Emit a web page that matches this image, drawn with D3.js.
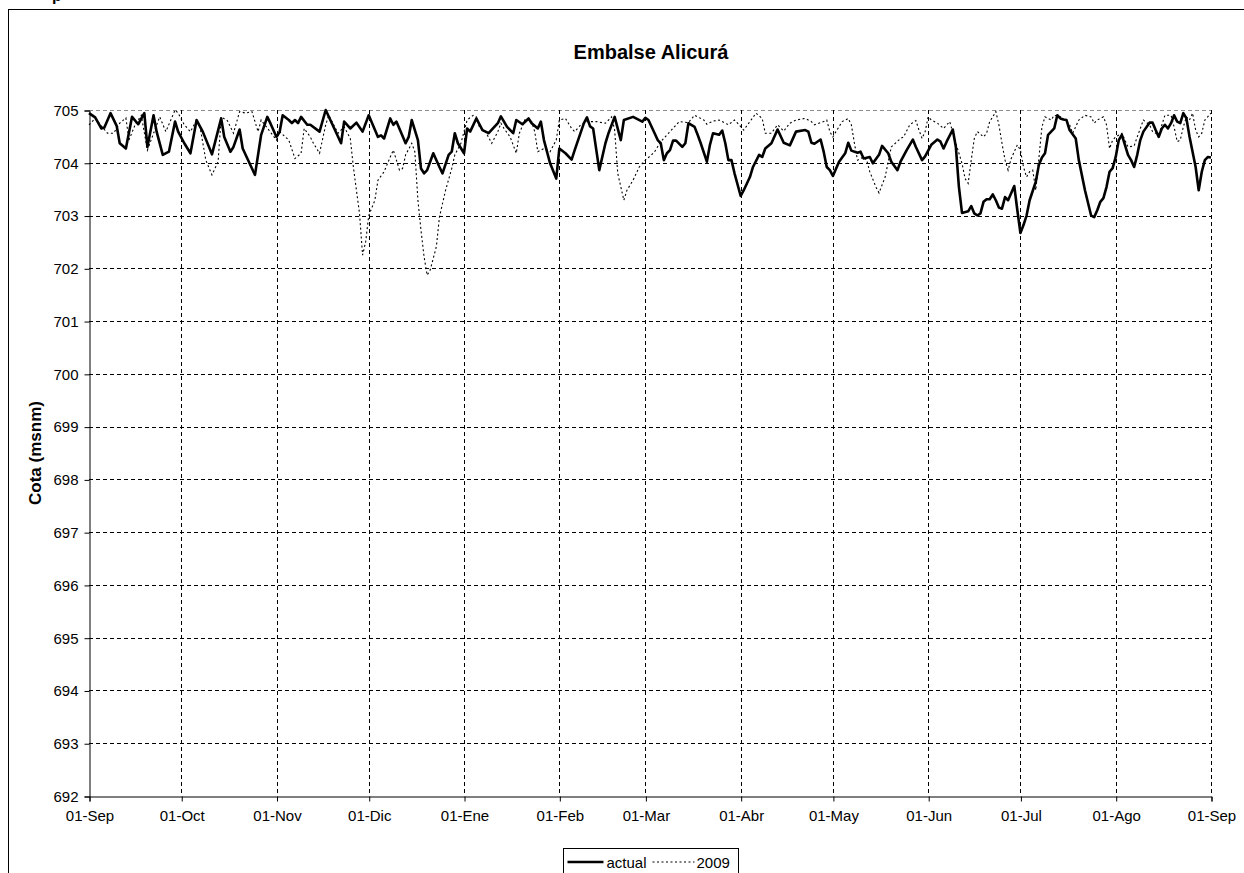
<!DOCTYPE html>
<html>
<head>
<meta charset="utf-8">
<script src="https://cdn.jsdelivr.net/npm/d3@7"></script>
<style>
  html, body { margin: 0; padding: 0; background: #fff; }
  svg { display: block; font-family: "Liberation Sans", Arial, sans-serif; }
</style>
</head>
<body>
<svg id="chart" width="1244" height="873"></svg>
<script>
// Cota diaria del embalse (msnm); días contados desde el 01-Sep
const diasActual = [0,2,4,5,7,9,10,12,14,16,18,19,21,22,24,26,28,29,31,33,35,37,40,43,44,46,47,49,50,52,54,56,58,59,61,62,63,65,66,67,68,69,71,72,75,77,79,82,83,85,87,89,91,94,95,96,98,99,100,103,104,105,107,108,109,110,112,114,115,117,118,119,120,122,123,124,126,128,130,133,134,136,138,139,141,143,144,146,147,148,150,152,153,155,157,158,161,162,163,164,166,168,169,171,173,174,177,180,181,182,184,185,186,187,188,189,190,191,193,194,195,197,198,199,201,202,203,205,206,207,208,209,210,212,213,215,216,218,219,220,222,224,226,228,230,233,234,235,236,238,239,240,241,242,244,246,247,248,250,251,252,254,255,257,258,260,261,263,264,266,268,269,271,272,274,276,277,278,279,281,282,283,284,286,287,288,289,290,291,292,293,294,295,296,297,298,299,301,302,303,304,305,306,308,309,310,311,312,314,315,316,317,318,319,321,322,324,326,327,328,329,330,331,332,333,334,335,336,337,338,339,340,341,342,343,345,346,347,348,349,350,351,352,353,354,355,356,357,358,360,361,362,363,364,365];
const cotaActual = [704.94,704.86,704.65,704.67,704.94,704.70,704.37,704.27,704.87,704.73,704.94,704.30,704.90,704.59,704.15,704.21,704.78,704.59,704.37,704.18,704.81,704.59,704.16,704.84,704.49,704.21,704.30,704.63,704.27,704.02,703.77,704.53,704.87,704.75,704.49,704.58,704.90,704.81,704.75,704.81,704.75,704.87,704.72,704.72,704.59,705.00,704.75,704.37,704.78,704.65,704.76,704.59,704.90,704.49,704.52,704.46,704.84,704.72,704.78,704.37,704.49,704.81,704.43,703.89,703.80,703.86,704.18,703.92,703.80,704.15,704.21,704.56,704.37,704.18,704.65,704.59,704.84,704.62,704.56,704.75,704.88,704.68,704.56,704.81,704.73,704.84,704.75,704.65,704.78,704.43,703.99,703.70,704.27,704.18,704.06,704.24,704.75,704.86,704.69,704.65,703.86,704.37,704.56,704.87,704.43,704.81,704.87,704.78,704.85,704.81,704.56,704.43,704.37,704.05,704.18,704.24,704.42,704.42,704.30,704.37,704.75,704.68,704.53,704.37,704.02,704.34,704.56,704.53,704.61,704.37,704.05,704.05,703.80,703.37,703.48,703.73,703.92,704.15,704.11,704.27,704.37,704.63,704.38,704.33,704.59,704.62,704.59,704.38,704.36,704.44,704.21,703.92,703.86,703.75,704.02,704.18,704.38,704.23,704.19,704.21,704.08,704.11,703.99,704.15,704.32,704.18,704.02,703.86,704.02,704.24,704.44,704.30,704.05,704.12,704.34,704.44,704.40,704.27,704.40,704.63,704.30,703.54,703.05,703.08,703.18,703.04,703.00,703.04,703.26,703.31,703.31,703.40,703.29,703.15,703.13,703.35,703.29,703.56,703.10,702.67,702.82,703.00,703.29,703.64,703.96,704.10,704.18,704.53,704.65,704.90,704.84,704.82,704.81,704.62,704.46,704.05,703.48,703.00,702.97,703.10,703.26,703.33,703.54,703.83,703.90,704.11,704.43,704.53,704.34,704.15,704.05,703.92,704.15,704.43,704.59,704.76,704.76,704.62,704.49,704.65,704.72,704.65,704.75,704.90,704.78,704.75,704.94,704.84,704.50,703.92,703.48,703.83,704.05,704.11,704.10];

const dias2009 = [0,2,4,6,8,10,12,13,15,17,19,20,23,25,28,29,31,33,35,36,38,40,42,43,45,47,49,51,53,55,56,61,62,65,67,69,70,72,73,75,77,78,81,83,85,86,88,89,90,91,93,94,96,98,99,101,102,103,105,106,107,108,109,110,111,113,114,116,118,119,121,122,123,125,126,127,129,131,133,134,135,137,139,140,142,144,145,146,148,150,152,153,155,157,158,160,162,164,165,168,170,171,172,174,175,177,179,181,183,184,186,189,192,195,197,200,201,203,205,208,210,211,213,215,217,219,220,222,224,226,228,230,233,235,236,239,240,241,242,243,245,247,248,249,250,252,253,254,256,257,259,260,261,264,265,267,269,270,271,272,273,274,276,278,280,282,283,284,285,286,287,288,289,291,292,293,294,295,296,297,298,299,300,302,303,304,305,306,307,308,309,310,311,313,314,316,318,319,320,322,324,326,327,328,330,331,332,333,334,336,338,340,341,342,343,345,346,348,350,352,353,354,355,356,357,358,359,360,361,362,363,365];
const cota2009 = [704.72,704.84,704.70,704.56,704.56,704.75,704.85,704.43,704.72,704.90,704.24,704.40,704.87,704.59,705.00,704.94,704.72,704.59,704.81,704.72,704.05,703.77,704.02,704.87,704.80,704.56,704.97,704.94,704.97,704.59,704.81,704.43,704.59,704.43,704.08,704.18,704.65,704.49,704.37,704.18,704.72,704.90,704.56,704.68,704.46,703.92,703.04,702.25,702.50,703.00,703.29,703.67,703.83,704.11,704.24,703.86,703.89,704.15,704.37,704.21,703.29,702.72,702.22,701.87,701.97,702.41,702.97,703.48,703.89,704.15,704.37,704.59,704.81,704.90,704.87,704.68,704.59,704.37,704.59,704.75,704.65,704.49,704.18,704.56,704.84,704.78,704.59,704.21,704.27,704.21,704.43,704.81,704.84,704.65,704.59,704.72,704.78,704.78,704.78,704.75,704.87,704.62,703.80,703.29,703.48,703.67,703.92,704.05,704.15,704.21,704.40,704.59,704.78,704.76,704.90,704.81,704.73,704.79,704.81,704.72,704.81,704.75,704.62,704.78,704.94,704.84,704.56,704.56,704.72,704.60,704.75,704.81,704.84,704.78,704.72,704.78,704.81,704.59,704.49,704.59,704.78,704.84,704.72,704.37,704.05,704.11,704.05,703.83,703.54,703.43,703.73,704.02,704.30,704.46,704.49,704.72,704.80,704.62,704.46,704.59,704.87,704.81,704.75,704.65,704.78,704.37,704.18,703.99,703.70,703.61,704.05,704.46,704.59,704.49,704.56,704.78,704.87,704.97,704.72,704.37,704.05,703.86,704.08,704.34,704.24,703.92,703.73,703.83,703.86,703.48,704.08,704.68,704.87,704.81,704.90,704.87,704.78,704.72,704.56,704.81,704.90,704.87,704.75,704.81,704.87,704.72,704.27,704.43,704.49,704.56,704.30,704.32,704.49,704.65,704.81,704.72,704.59,704.53,704.90,704.90,704.68,704.40,704.43,704.68,704.87,704.81,704.94,704.62,704.49,704.56,704.81,704.94];

// Ejes: primer día de cada mes y cotas enteras
const diasMes = [0,30,61,91,122,153,181,212,242,273,303,334,365];
const etiquetasMes = ["01-Sep","01-Oct","01-Nov","01-Dic","01-Ene","01-Feb","01-Mar","01-Abr","01-May","01-Jun","01-Jul","01-Ago","01-Sep"];
const cotasEje = [692,693,694,695,696,697,698,699,700,701,702,703,704,705];

const titulo = "Embalse Alicurá";
const tituloEjeY = "Cota (msnm)";
const series = [
  { nombre: "actual", dias: diasActual, cotas: cotaActual },
  { nombre: "2009", dias: dias2009, cotas: cota2009 }
];

const svg = d3.select("#chart");
const W = 1244, H = 873;
const plot = { left: 89, right: 1211, top: 110, bottom: 796 };

const x = d3.scaleLinear().domain([0, 365]).range([plot.left, plot.right]);
const y = d3.scaleLinear().domain([692, 705]).range([plot.bottom, plot.top]);

svg.append("rect").attr("width", W).attr("height", H).attr("fill", "#fff");

// fragmento del texto superior, cortado por el borde
svg.append("text").attr("x", 52).attr("y", 1)
  .attr("font-size", 16).attr("font-weight", "bold").text("p");

// marco exterior del gráfico
svg.append("rect")
  .attr("x", 8.5).attr("y", 9.5)
  .attr("width", 1400).attr("height", 1000)
  .attr("fill", "#fff").attr("stroke", "#000").attr("stroke-width", 1);

// cuadrícula horizontal
svg.append("g").selectAll("line").data(cotasEje.filter(c => c !== 692)).join("line")
  .attr("x1", plot.left).attr("x2", plot.right)
  .attr("y1", d => Math.round(y(d)) + 0.5).attr("y2", d => Math.round(y(d)) + 0.5)
  .attr("stroke", d => d === 705 ? "#8c8c8c" : "#000")
  .attr("stroke-width", 1)
  .attr("stroke-dasharray", "4,3");

// cuadrícula vertical
svg.append("g").selectAll("line").data(diasMes.filter(d => d !== 0)).join("line")
  .attr("x1", d => Math.round(x(d)) + 0.5).attr("x2", d => Math.round(x(d)) + 0.5)
  .attr("y1", plot.top).attr("y2", plot.bottom)
  .attr("stroke", "#000").attr("stroke-width", 1)
  .attr("stroke-dasharray", "4,3");

// eje Y
const ejeY = svg.append("g").attr("transform", `translate(${plot.left + 0.5},0.5)`)
  .call(d3.axisLeft(y).tickValues(cotasEje).tickFormat(d3.format("d")).tickSize(5).tickPadding(6));
// eje X
const ejeX = svg.append("g").attr("transform", `translate(0.5,${plot.bottom + 0.5})`)
  .call(d3.axisBottom(x).tickValues(diasMes).tickFormat((d, i) => etiquetasMes[i]).tickSize(5).tickPadding(9));

[ejeY, ejeX].forEach(g => {
  g.select(".domain").attr("stroke", "#000").attr("stroke-width", 1);
  g.selectAll(".tick line").attr("stroke", "#000");
  g.selectAll(".tick text").attr("fill", "#000")
    .attr("font-family", "'Liberation Sans', Arial, sans-serif").attr("font-size", 15);
});

// series
const linea = d3.line()
  .x(d => x(d[0]))
  .y(d => y(d[1]));

const serie2009 = series[1];
svg.append("path")
  .datum(serie2009.dias.map((d, i) => [d, serie2009.cotas[i]]))
  .attr("d", linea)
  .attr("fill", "none").attr("stroke", "#000")
  .attr("stroke-width", 1.1).attr("stroke-dasharray", "2,2.5");

const serieActual = series[0];
svg.append("path")
  .datum(serieActual.dias.map((d, i) => [d, serieActual.cotas[i]]))
  .attr("d", linea)
  .attr("fill", "none").attr("stroke", "#000")
  .attr("stroke-width", 2.6).attr("stroke-linejoin", "round");

// títulos
svg.append("text")
  .attr("x", 651).attr("y", 59)
  .attr("text-anchor", "middle")
  .attr("font-size", 20).attr("font-weight", "bold")
  .text(titulo);

svg.append("text")
  .attr("transform", `translate(41,453) rotate(-90)`)
  .attr("text-anchor", "middle")
  .attr("font-size", 17).attr("font-weight", "bold")
  .text(tituloEjeY);

// leyenda
const ley = svg.append("g").attr("transform", "translate(563.5,848.5)");
ley.append("rect").attr("width", 175).attr("height", 40)
  .attr("fill", "#fff").attr("stroke", "#000");
const itemsLey = [
  { nombre: series[0].nombre, x0: 4, x1: 40, tx: 43, ancho: 2.6, dash: null },
  { nombre: series[1].nombre, x0: 89, x1: 131, tx: 133, ancho: 1.1, dash: "2,2.5" }
];
itemsLey.forEach(it => {
  ley.append("line").attr("x1", it.x0).attr("x2", it.x1).attr("y1", 13.5).attr("y2", 13.5)
    .attr("stroke", "#000").attr("stroke-width", it.ancho)
    .attr("stroke-dasharray", it.dash);
  ley.append("text").attr("x", it.tx).attr("y", 19)
    .attr("font-size", 15).text(it.nombre);
});
</script>
</body>
</html>
